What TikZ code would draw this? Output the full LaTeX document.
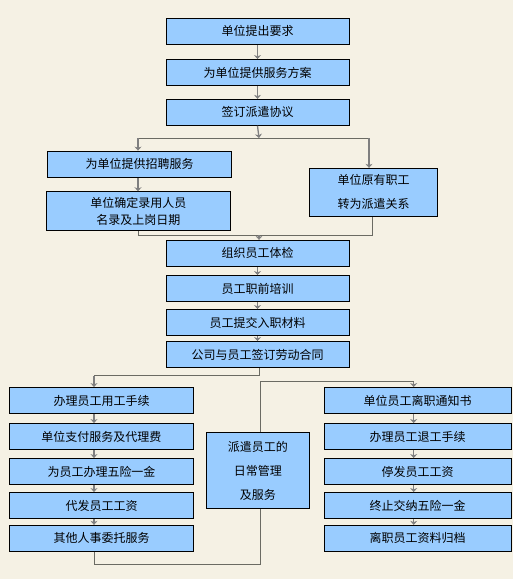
\documentclass[tikz,border=0pt]{standalone}
\usepackage{fontspec}
\setmainfont{Noto Sans CJK SC}
\usetikzlibrary{arrows.meta}
\definecolor{bg}{HTML}{F5F1E4}
\definecolor{boxfill}{HTML}{99CCFF}
\definecolor{ln}{HTML}{6B6B63}
\definecolor{arr}{HTML}{7F7F7F}
\tikzset{
  box/.style={draw=black, line width=0.9pt, fill=boxfill, inner sep=0pt,
    font=\fontsize{12}{14}\selectfont, align=center},
  tall/.style={font=\fontsize{12}{24}\selectfont},
  conn/.style={draw=ln, line width=1pt},
  arrowc/.style={draw=arr, line width=1.3pt, -{Stealth[length=4pt,width=7pt]}},
}
\begin{document}
\begin{tikzpicture}[x=1pt,y=-1pt]
\fill[bg] (0,0) rectangle (513,579);
\useasboundingbox (0,0) rectangle (513,579);

% top column
\node[box, minimum width=183pt, minimum height=26pt] (b1) at (257.5,31.3) {单位提出要求};
\node[box, minimum width=183pt, minimum height=26pt] (b2) at (257.5,72.5) {为单位提供服务方案};
\node[box, minimum width=183pt, minimum height=26pt] (b3) at (257.5,112.3) {签订派遣协议};
\node[box, minimum width=183.6pt, minimum height=26.3pt] (b4) at (139.5,164.2) {为单位提供招聘服务};
\node[box, minimum width=184pt, minimum height=39pt, font=\fontsize{12}{17.4}\selectfont] (b5) at (138.3,211.2) {单位确定录用人员\\名录及上岗日期};
\node[box, tall, minimum width=127.6pt, minimum height=48pt] (r1) at (373.5,192.3) {单位原有职工\\转为派遣关系};
\node[box, minimum width=183pt, minimum height=26pt] (b6) at (257.5,253.3) {组织员工体检};
\node[box, minimum width=183pt, minimum height=26pt] (b7) at (257.5,288.5) {员工职前培训};
\node[box, minimum width=183pt, minimum height=26pt] (b8) at (257.5,322.5) {员工提交入职材料};
\node[box, minimum width=183pt, minimum height=26pt] (b9) at (257.5,354.5) {公司与员工签订劳动合同};

% left column
\node[box, minimum width=183.6pt, minimum height=26pt] (L1) at (101.5,400.5) {办理员工用工手续};
\node[box, minimum width=183.6pt, minimum height=26pt] (L2) at (101.5,436.5) {单位支付服务及代理费};
\node[box, minimum width=183.6pt, minimum height=26pt] (L3) at (101.5,471.5) {为员工办理五险一金};
\node[box, minimum width=183.6pt, minimum height=26pt] (L4) at (101.5,505.5) {代发员工工资};
\node[box, minimum width=183.6pt, minimum height=26pt] (L5) at (101.5,538.3) {其他人事委托服务};

% middle
\node[box, tall, minimum width=103pt, minimum height=75.6pt] (M) at (257.8,470.5) {派遣员工的\\日常管理\\及服务};

% right column
\node[box, minimum width=187pt, minimum height=26pt] (R1) at (417.5,400.5) {单位员工离职通知书};
\node[box, minimum width=187pt, minimum height=26pt] (R2) at (417.5,436.5) {办理员工退工手续};
\node[box, minimum width=187pt, minimum height=26pt] (R3) at (417.5,471.5) {停发员工工资};
\node[box, minimum width=187pt, minimum height=26pt] (R4) at (417.5,505.5) {终止交纳五险一金};
\node[box, minimum width=187pt, minimum height=26pt] (R5) at (417.5,538.3) {离职员工资料归档};

% coordinates
\coordinate (j1) at (259,138);
\coordinate (jl) at (138,138);
\coordinate (jr) at (369,138);
\coordinate (ml) at (138,235);
\coordinate (mr) at (372,235);
\coordinate (mc) at (259,235);
\coordinate (k1) at (259.3,375.5);
\coordinate (k2) at (94,375.5);
\coordinate (k3) at (94,564);
\coordinate (m1) at (260.7,564);
\coordinate (m2) at (260.7,381.7);
\coordinate (m3) at (413.7,381.7);

% connectors
\draw[arrowc] (b1.south) -- (b2.north);
\draw[arrowc] (b2.south) -- (b3.north);
\draw[conn] (jl) -- (jr);
\draw[arrowc] (b3.south) -- (j1);
\draw[arrowc] (jl) -- (jl |- b4.north);
\draw[arrowc] (jr) -- (jr |- r1.north);
\draw[arrowc] (jl |- b4.south) -- (jl |- b5.north);
\draw[conn] (ml |- b5.south) -- (ml) -- (mr) -- (mr |- r1.south);
\draw[arrowc] (mc) -- (mc |- b6.north);
\draw[arrowc] (b6.south) -- (b7.north);
\draw[arrowc] (b7.south) -- (b8.north);
\draw[arrowc] (b8.south) -- (b9.north);
\draw[conn] (k1 |- b9.south) -- (k1) -- (k2);
\draw[arrowc] (k2) -- (k2 |- L1.north);
\draw[arrowc] (k2 |- L1.south) -- (k2 |- L2.north);
\draw[arrowc] (k2 |- L2.south) -- (k2 |- L3.north);
\draw[arrowc] (k2 |- L3.south) -- (k2 |- L4.north);
\draw[arrowc] (k2 |- L4.south) -- (k2 |- L5.north);
\draw[conn] (k2 |- L5.south) -- (k3) -- (m1) -- (m1 |- M.south);
\draw[conn] (m1 |- M.north) -- (m2) -- (m3);
\draw[arrowc] (m3) -- (m3 |- R1.north);
\draw[arrowc] (m3 |- R1.south) -- (m3 |- R2.north);
\draw[arrowc] (m3 |- R2.south) -- (m3 |- R3.north);
\draw[arrowc] (m3 |- R3.south) -- (m3 |- R4.north);
\draw[arrowc] (m3 |- R4.south) -- (m3 |- R5.north);
\end{tikzpicture}
\end{document}
